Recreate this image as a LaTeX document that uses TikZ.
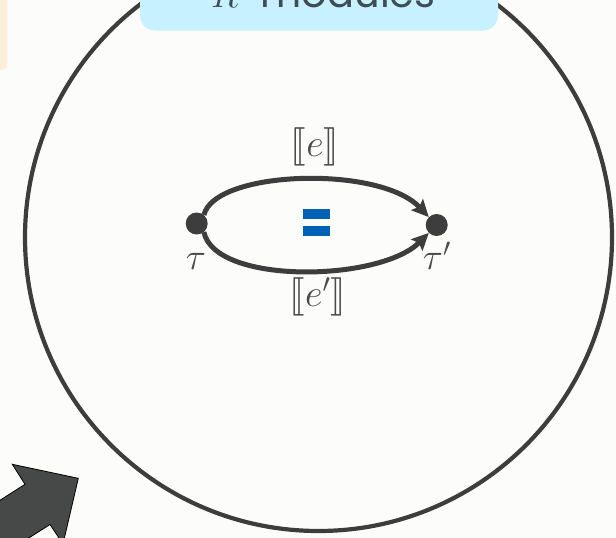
\documentclass[tikz,border=0pt]{standalone}
\usepackage{fontspec}
\usepackage{stmaryrd}
\usepackage{graphicx}
\newfontfamily\titlefont{Poppins}
\usetikzlibrary{arrows.meta}
\definecolor{bgc}{HTML}{FCFCFA}
\definecolor{ink}{HTML}{3D3D3D}
\definecolor{boxblue}{HTML}{C7F1FE}
\definecolor{peach}{HTML}{FDEEDC}
\definecolor{titleink}{HTML}{3E4C55}
\definecolor{eqblue}{HTML}{0062B4}
\definecolor{labink}{HTML}{4A4A4A}
\definecolor{bigarrow}{HTML}{474948}
\tikzset{
  dot/.style={circle, fill=ink, inner sep=0pt, minimum size=22pt},
  conn/.style={ink, line width=5pt, -{Stealth[length=17pt,width=16pt,inset=3pt]}},
  lab/.style={text=labink, inner sep=0pt, font=\fontsize{20}{24}\selectfont},
}
\begin{document}
\begin{tikzpicture}[x=1pt,y=-1pt]
\useasboundingbox (0,0) rectangle (616,538);
\clip (0,0) rectangle (616,538);
\fill[bgc] (0,0) rectangle (616,538);
% peach box at left edge
\fill[peach, rounded corners=6pt] (-20,-20) rectangle (7,70);
% big circle
\draw[ink, line width=4.2pt] (318.5,237.5) circle[radius=293.5];
% title box
\fill[boxblue, rounded corners=15pt] (140,-30) rectangle (498,30.5);
\node[anchor=base west, inner sep=0pt, text=titleink, font=\fontsize{40}{48}\selectfont] (title) at (211,7) {\scalebox{1.75}{\fontsize{20}{24}\selectfont$R$}\titlefont-modules};
% big arrow
\fill[bigarrow, draw=black, line width=0.8pt]
  (-59,538) -- (25,484.3) -- (12.3,464.3) -- (78.3,478.3) -- (63,544) -- (50,524.5) -- (-34,578) -- cycle;
% nodes
\node[dot] (L) at (196.7,223.5) {};
\node[dot] (R) at (436.7,225) {};
\node[lab] (tl) at (196,261) {\scalebox{1.8}{$\tau$}};
\node[lab] (tr) at (437,256) {\scalebox{1.8}{$\tau'$}};
% connectors
\draw[conn] (L.50) .. controls (215,170) and (380,165) .. (R.135);
\draw[conn] (L.-50) .. controls (215,285) and (380,282) .. (R.-135);
\node[lab] (e1) at (315,147) {\scalebox{1.85}{$\llbracket e\rrbracket$}};
\node[lab] (e2) at (318,297) {\scalebox{1.85}{$\llbracket e'\rrbracket$}};
% equals sign
\fill[eqblue] (302.7,209.3) rectangle (330,219.3);
\fill[eqblue] (302.7,226) rectangle (330,236);
\end{tikzpicture}
\end{document}
